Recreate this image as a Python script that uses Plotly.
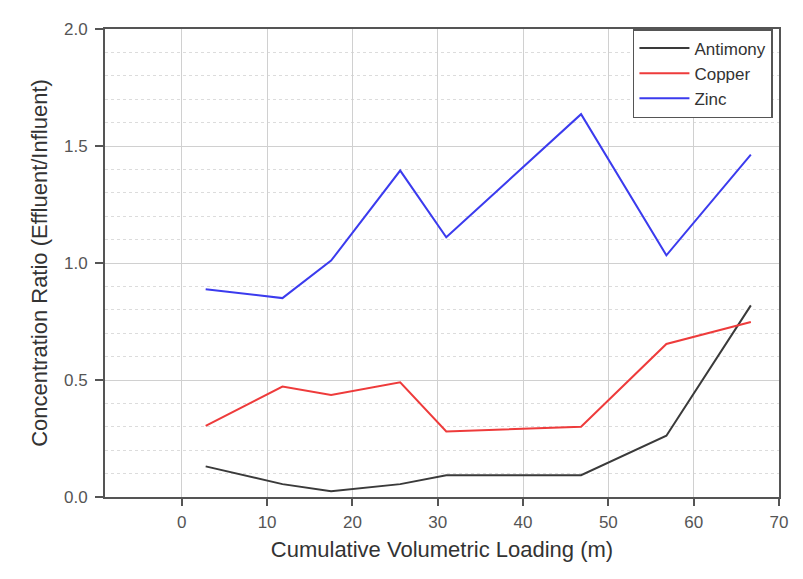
import plotly.graph_objects as go

x_vals = [2.8, 11.8, 17.5, 25.6, 31.0, 46.8, 56.8, 66.7]
antimony = [0.131, 0.055, 0.025, 0.055, 0.093, 0.093, 0.262, 0.819]
copper = [0.304, 0.472, 0.436, 0.49, 0.28, 0.30, 0.654, 0.748]
zinc = [0.888, 0.85, 1.01, 1.395, 1.11, 1.636, 1.033, 1.463]

series = [("Antimony", antimony, "#3a3a3a"), ("Copper", copper, "#ee3b3b"), ("Zinc", zinc, "#3b3bee")]

fig = go.Figure()
for name, vals, col in series:
    fig.add_trace(go.Scatter(x=x_vals, y=vals, mode="lines", name=name,
                             line=dict(color=col, width=2)))

font = "Liberation Sans, Arial, sans-serif"
fig.update_layout(
    width=803, height=579,
    margin=dict(l=97, r=32, t=16, b=90),
    paper_bgcolor="white", plot_bgcolor="white",
    font=dict(family=font, size=17, color="#444"),
    showlegend=True,
    legend=dict(x=0.991, y=1.0, xanchor="right", yanchor="top",
                bordercolor="#555", borderwidth=1.5, bgcolor="white",
                font=dict(size=17, color="#333"), tracegroupgap=0,
                itemwidth=50),
    xaxis=dict(range=[-9, 70], tickvals=[0, 10, 20, 30, 40, 50, 60, 70],
               showgrid=True, gridcolor="#d0d0d0", gridwidth=1,
               showline=True, linecolor="#555", linewidth=2, mirror=True,
               ticks="outside", ticklen=7, tickcolor="#555", tickwidth=1.5,
               tickfont=dict(size=17, color="#555"), zeroline=False,
               ticklabelstandoff=2,
               title=dict(text="Cumulative Volumetric Loading (m)",
                          font=dict(size=22, color="#333"), standoff=10)),
    yaxis=dict(range=[0, 2.0], tickvals=[0, 0.5, 1.0, 1.5, 2.0], tickformat=".1f",
               showgrid=True, gridcolor="#d0d0d0", gridwidth=1,
               minor=dict(dtick=0.1, showgrid=True, gridcolor="#dcdcdc",
                          griddash="dot", gridwidth=1, ticks=""),
               showline=True, linecolor="#555", linewidth=2, mirror=True,
               ticks="outside", ticklen=8, tickcolor="#555", tickwidth=1.5,
               tickfont=dict(size=17, color="#555"), zeroline=False,
               ticklabelstandoff=4,
               title=dict(text="Concentration Ratio (Effluent/Influent)",
                          font=dict(size=22, color="#333"), standoff=10)),
)

fig.write_html("out.html")
